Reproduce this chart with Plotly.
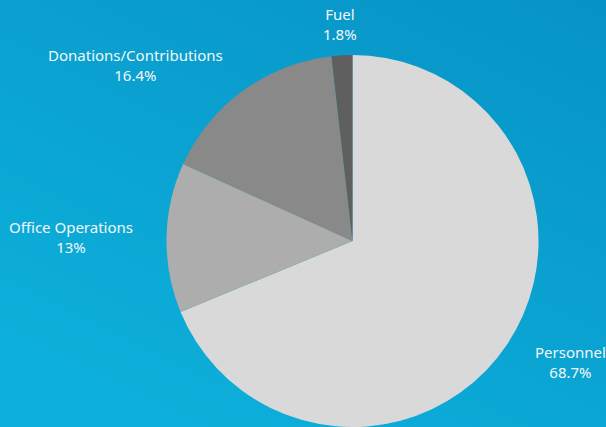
import math
import urllib.parse
import plotly.graph_objects as go

labels = ["Personnel", "Office Operations", "Donations/Contributions", "Fuel"]
values = [68.7, 13, 16.4, 1.8]
pct_text = ["68.7%", "13%", "16.4%", "1.8%"]
colors = ["#d9d9d9", "#adadad", "#898989", "#5f5f5f"]

W, H = 606, 427
dom_x = [0.2731, 0.8903]
dom_y = [0.0, 0.8712]

svg = (
    "<svg xmlns='http://www.w3.org/2000/svg' width='606' height='427' preserveAspectRatio='none'>"
    "<defs><linearGradient id='g' x1='1' y1='0' x2='0.3' y2='1'>"
    "<stop offset='0' stop-color='#0792c6'/>"
    "<stop offset='1' stop-color='#0db0da'/>"
    "</linearGradient></defs>"
    "<rect width='606' height='427' fill='url(#g)'/></svg>"
)
bg_uri = "data:image/svg+xml;charset=utf-8," + urllib.parse.quote(svg)

fig = go.Figure(
    go.Pie(
        labels=labels,
        values=values,
        textinfo="none",
        sort=False,
        direction="clockwise",
        rotation=0,
        marker=dict(colors=colors, line=dict(width=0)),
        showlegend=False,
        hoverinfo="label+percent",
        domain=dict(x=dom_x, y=dom_y),
    )
)

# outside labels, placed from the slice mid-angles
cx = (dom_x[0] + dom_x[1]) / 2 * W
cy = (dom_y[0] + dom_y[1]) / 2 * H
r = min((dom_x[1] - dom_x[0]) * W, (dom_y[1] - dom_y[0]) * H) / 2
r_lab = r * 1.168
total = sum(values)
cum = 0.0
annotations = []
for lab, v, pt in zip(labels, values, pct_text):
    theta = 2 * math.pi * (cum + v / 2) / total
    cum += v
    ux, uy = math.sin(theta), math.cos(theta)
    if ux > 0.3:
        xa = "left"
    elif ux < -0.3:
        xa = "right"
    else:
        xa = "center"
    annotations.append(dict(
        x=(cx + r_lab * ux) / W, y=(cy + r_lab * uy) / H,
        xref="paper", yref="paper", xanchor=xa, yanchor="middle",
        text=f"{lab}<br>{pt}", showarrow=False, align="center",
        font=dict(color="#f3f7f9", size=15, family="Noto Sans"),
    ))

fig.update_layout(
    width=W,
    height=H,
    margin=dict(l=0, r=0, t=0, b=0),
    paper_bgcolor="#0aa0d0",
    plot_bgcolor="rgba(0,0,0,0)",
    annotations=annotations,
    images=[dict(source=bg_uri, xref="paper", yref="paper", x=0, y=1,
                 sizex=1, sizey=1, sizing="stretch", layer="below",
                 xanchor="left", yanchor="top")],
)

fig.write_html(
    "out.html",
    config={"displayModeBar": False},
    post_script="document.body.style.margin='0';document.body.style.overflow='hidden';",
)
